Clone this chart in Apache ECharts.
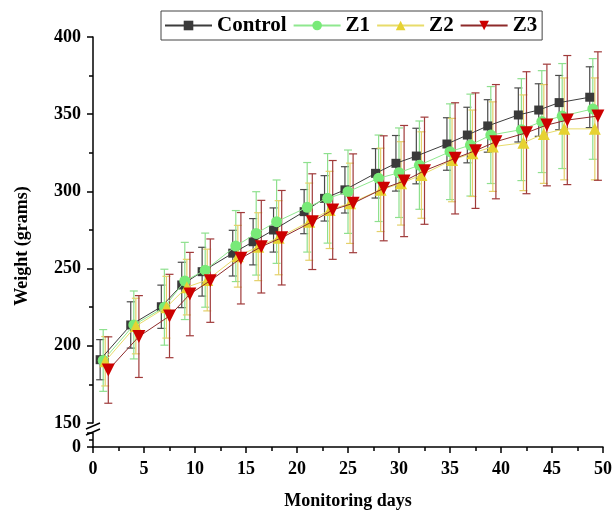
<!DOCTYPE html>
<html>
<head>
<meta charset="utf-8">
<script src="https://cdn.jsdelivr.net/npm/echarts@6/dist/echarts.min.js"></script>
<style>html,body{margin:0;padding:0;background:#fff}#c{width:614px;height:514px}</style>
</head>
<body>
<div id="c"></div>
<script>
// ---- data ----
const days = [1, 4, 7, 9, 11, 14, 16, 18, 21, 23, 25, 28, 30, 32, 35, 37, 39, 42, 44, 46, 49];
const seriesNames = ['Control', 'Z1', 'Z2', 'Z3'];
const dayShift = { Control: -0.3, Z1: 0, Z2: 0.2, Z3: 0.5 };
const controlMean = [191, 213.5, 225.3, 239.4, 248, 260, 267.4, 275, 286.9, 295.5, 301, 311.7, 318.2, 322.9, 330.7, 336.5, 342.4, 349.5, 352.7, 357.5, 361];
const controlErr  = [13, 15, 14, 14.7, 15.8, 14.8, 15, 14.3, 14.3, 14.7, 15, 16, 18, 18, 17, 18, 17, 17.5, 17, 17.6, 19.7];
const z1Mean = [190.5, 213.5, 225, 242, 249, 264.6, 272.8, 280.4, 289.7, 295.5, 299.8, 308.5, 312.1, 317, 325.7, 330, 336.5, 340, 345.2, 348.8, 353.4];
const z1Err  = [20, 22, 24.6, 25, 24, 23, 27, 27, 29, 29, 27, 28, 29, 28.6, 31, 33, 31.4, 33, 33, 34, 32.6];
const z2Mean = [190, 212.8, 225, 238, 242.6, 258, 264.2, 270, 280.4, 288, 292.3, 301, 305.2, 310.6, 320.3, 324.7, 329, 331.5, 337.2, 340.5, 340.5];
const z2Err  = [16, 18, 20, 18, 20, 20, 22, 24, 25, 25, 26, 27, 27, 28, 27, 28, 29, 31, 32, 33, 33];
const z3Mean = [184.3, 206, 219.3, 233.5, 242.2, 256.7, 264.2, 270, 280.4, 288, 292.3, 302, 306.7, 313.4, 321.4, 326.4, 332.2, 338, 343, 346.2, 348.8];
const z3Err  = [21.5, 26.5, 27, 27, 27, 29.6, 30, 30.6, 31, 32, 32, 34, 36, 34.7, 36, 37.4, 37, 39.5, 39.4, 41.8, 41.6];
const yTicksMain = { min: 150, max: 400, interval: 50 };
const yTicksLow = { min: 0, max: 20, interval: 20 };
const xTicks = { min: 0, max: 50, interval: 5 };

// ---- styles ----
const FONT = '"Liberation Serif", "Times New Roman", serif';
const styles = {
  Control: { line: '#3c3c3c', fill: '#3a3a3a', err: '#4a4a4a', symbol: 'rect', size: 9, rotate: 0 },
  Z1: { line: '#8fe88f', fill: '#78ea78', err: '#8ee08e', symbol: 'circle', size: 11, rotate: 0 },
  Z2: { line: '#e8dc6a', fill: '#e6d232', err: '#e4d06a', symbol: 'triangle', size: 12, rotate: 0 },
  Z3: { line: '#8e2a2a', fill: '#cc0000', err: '#a03a3a', symbol: 'triangle', size: 13, rotate: 180 }
};
const means = { Control: controlMean, Z1: z1Mean, Z2: z2Mean, Z3: z3Mean };
const errs = { Control: controlErr, Z1: z1Err, Z2: z2Err, Z3: z3Err };

const series = [];
seriesNames.forEach((n, k) => {
  const st = styles[n];
  series.push({
    type: 'custom', name: n + ' err', xAxisIndex: 0, yAxisIndex: 0, silent: true, z: 1 + k * 0.1,
    data: days.map((d, i) => [d + dayShift[n], means[n][i] - errs[n][i], means[n][i] + errs[n][i]]),
    renderItem: (params, api) => {
      const lo = api.coord([api.value(0), api.value(1)]);
      const hi = api.coord([api.value(0), api.value(2)]);
      const w = 4, s = { stroke: st.err, lineWidth: 1.2 };
      return { type: 'group', children: [
        { type: 'line', shape: { x1: hi[0], y1: hi[1], x2: lo[0], y2: lo[1] }, style: s },
        { type: 'line', shape: { x1: hi[0] - w, y1: hi[1], x2: hi[0] + w, y2: hi[1] }, style: s },
        { type: 'line', shape: { x1: lo[0] - w, y1: lo[1], x2: lo[0] + w, y2: lo[1] }, style: s }
      ] };
    }
  });
});
seriesNames.forEach((n, k) => {
  const st = styles[n];
  series.push({
    type: 'line', name: n, xAxisIndex: 0, yAxisIndex: 0, z: 3 + k,
    data: days.map((d, i) => [d + dayShift[n], means[n][i]]),
    symbol: st.symbol, symbolSize: st.size, symbolRotate: st.rotate, showAllSymbol: true,
    lineStyle: { color: st.line, width: 1 },
    itemStyle: { color: st.fill, borderColor: st.fill, borderWidth: 0 },
    emphasis: { disabled: true }, animation: false
  });
});

const axisLine = { show: true, onZero: false, lineStyle: { color: '#000', width: 1.5 } };
const tickLbl = { color: '#000', fontFamily: FONT, fontWeight: 'bold', fontSize: 18 };

const option = {
  animation: false,
  backgroundColor: '#fff',
  grid: [
    { left: 93, top: 37, width: 510, height: 386, outerBoundsMode: 'none', containLabel: false },
    { left: 93, top: 433, width: 510, height: 14, outerBoundsMode: 'none', containLabel: false }
  ],
  legend: {
    data: seriesNames, left: 161, top: 11, orient: 'horizontal',
    itemWidth: 47, itemHeight: 12, itemGap: 6,
    padding: [4, 5, 4, 3], borderColor: '#444', borderWidth: 1,
    textStyle: { color: '#000', fontFamily: FONT, fontWeight: 'bold', fontSize: 21 }
  },
  xAxis: [
    { type: 'value', gridIndex: 0, min: xTicks.min, max: xTicks.max, interval: xTicks.interval, show: false },
    { type: 'value', gridIndex: 1, min: xTicks.min, max: xTicks.max, interval: xTicks.interval,
      axisLine: axisLine, axisTick: { show: true, length: 6, lineStyle: { color: '#000', width: 1.5 } },
      minorTick: { show: true, splitNumber: 2, length: 4, lineStyle: { color: '#000', width: 1.5 } },
      splitLine: { show: false }, axisLabel: Object.assign({ margin: 13 }, tickLbl),
      name: 'Monitoring days', nameLocation: 'middle', nameGap: 45,
      nameTextStyle: { color: '#000', fontFamily: FONT, fontWeight: 'bold', fontSize: 18 } }
  ],
  yAxis: [
    { type: 'value', gridIndex: 0, min: yTicksMain.min, max: yTicksMain.max, interval: yTicksMain.interval,
      axisLine: axisLine, axisTick: { show: true, length: 6, lineStyle: { color: '#000', width: 1.5 } },
      minorTick: { show: true, splitNumber: 2, length: 4, lineStyle: { color: '#000', width: 1.5 } },
      splitLine: { show: false }, axisLabel: Object.assign({ margin: 12 }, tickLbl),
      name: 'Weight (grams)', nameLocation: 'middle', nameGap: 62, nameRotate: 90,
      nameTextStyle: { color: '#000', fontFamily: FONT, fontWeight: 'bold', fontSize: 18, padding: [0, 32, 0, 0] } },
    { type: 'value', gridIndex: 1, min: yTicksLow.min, max: yTicksLow.max, interval: yTicksLow.interval,
      axisLine: axisLine, axisTick: { show: true, length: 6, lineStyle: { color: '#000', width: 1.5 } },
      minorTick: { show: true, splitNumber: 2, length: 4, lineStyle: { color: '#000', width: 1.5 } },
      splitLine: { show: false },
      axisLabel: Object.assign({ margin: 12, showMinLabel: true, showMaxLabel: false, hideOverlap: false }, tickLbl) }
  ],
  graphic: [
    { type: 'line', shape: { x1: 86, y1: 429, x2: 100, y2: 423 }, style: { stroke: '#000', lineWidth: 1.5 }, z: 10 },
    { type: 'line', shape: { x1: 86, y1: 435, x2: 100, y2: 429 }, style: { stroke: '#000', lineWidth: 1.5 }, z: 10 },
    { type: 'rect', shape: { x: 91, y: 425, width: 4, height: 7 }, style: { fill: '#fff' }, z: 9 }
  ],
  series: series
};
const chart = echarts.init(document.getElementById('c'), null, { renderer: 'canvas' });
chart.setOption(option);
</script>
</body>
</html>
